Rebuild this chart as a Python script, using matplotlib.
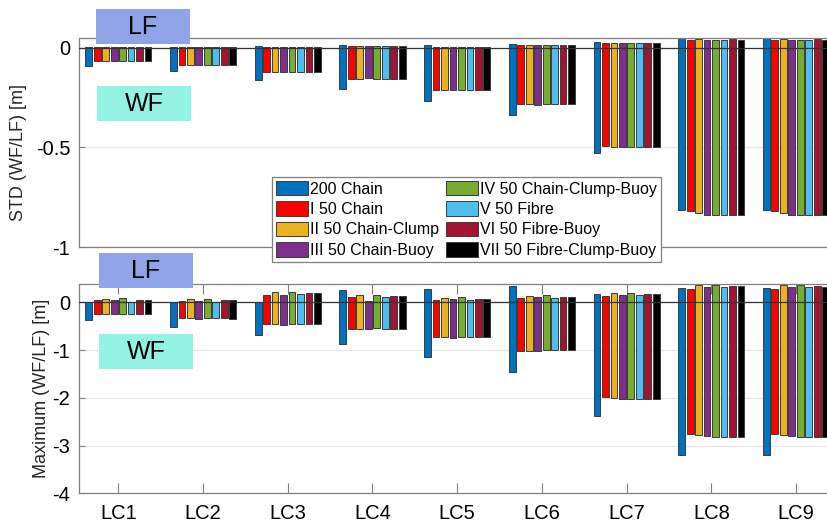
import numpy as np
import matplotlib
matplotlib.use('Agg')
import matplotlib.pyplot as plt
from matplotlib.patches import Rectangle, Patch

plt.rcParams['font.family'] = ['Liberation Sans', 'DejaVu Sans']

cases = ['LC1', 'LC2', 'LC3', 'LC4', 'LC5', 'LC6', 'LC7', 'LC8', 'LC9']
configs = ['200 Chain', 'I 50 Chain', 'II 50 Chain-Clump', 'III 50 Chain-Buoy',
           'IV 50 Chain-Clump-Buoy', 'V 50 Fibre', 'VI 50 Fibre-Buoy',
           'VII 50 Fibre-Clump-Buoy']
colors = ['#0072BD', '#FF0000', '#EDB120', '#7E2F8E', '#77AC30', '#4DBEEE',
          '#A2142F', '#000000']

# STD, low-frequency part (positive) -- rows: config, cols: LC1..LC9
std_lf = [
    [0.004, 0.005, 0.008, 0.013, 0.013, 0.018, 0.028, 0.048, 0.048],
    [0.002, 0.003, 0.005, 0.008, 0.006, 0.012, 0.022, 0.037, 0.037],
    [0.002, 0.003, 0.005, 0.008, 0.006, 0.012, 0.025, 0.042, 0.043],
    [0.002, 0.003, 0.005, 0.008, 0.006, 0.012, 0.025, 0.039, 0.039],
    [0.002, 0.003, 0.005, 0.008, 0.006, 0.012, 0.025, 0.040, 0.041],
    [0.002, 0.003, 0.005, 0.008, 0.006, 0.012, 0.025, 0.040, 0.040],
    [0.002, 0.003, 0.005, 0.008, 0.006, 0.012, 0.025, 0.043, 0.043],
    [0.002, 0.003, 0.005, 0.008, 0.006, 0.012, 0.025, 0.040, 0.041],
]
# STD, wave-frequency part (negative)
std_wf = [
    [-0.089, -0.117, -0.163, -0.206, -0.265, -0.337, -0.528, -0.814, -0.814],
    [-0.067, -0.087, -0.121, -0.159, -0.210, -0.281, -0.494, -0.819, -0.819],
    [-0.067, -0.087, -0.121, -0.159, -0.210, -0.281, -0.497, -0.829, -0.829],
    [-0.067, -0.087, -0.122, -0.153, -0.210, -0.285, -0.497, -0.838, -0.838],
    [-0.067, -0.087, -0.120, -0.159, -0.210, -0.281, -0.497, -0.841, -0.841],
    [-0.067, -0.087, -0.120, -0.159, -0.210, -0.281, -0.497, -0.840, -0.841],
    [-0.067, -0.087, -0.120, -0.159, -0.210, -0.281, -0.497, -0.840, -0.841],
    [-0.067, -0.087, -0.120, -0.159, -0.210, -0.281, -0.497, -0.840, -0.841],
]
# Maximum, low-frequency part (positive)
max_lf = [
    [0.010, 0.010, 0.005, 0.250, 0.280, 0.350, 0.170, 0.305, 0.305],
    [0.040, 0.027, 0.160, 0.110, 0.048, 0.090, 0.140, 0.280, 0.280],
    [0.075, 0.062, 0.210, 0.145, 0.090, 0.125, 0.190, 0.355, 0.355],
    [0.048, 0.020, 0.155, 0.020, 0.062, 0.105, 0.155, 0.320, 0.320],
    [0.090, 0.075, 0.220, 0.150, 0.105, 0.145, 0.200, 0.360, 0.360],
    [0.013, 0.013, 0.170, 0.105, 0.055, 0.090, 0.150, 0.320, 0.320],
    [0.055, 0.040, 0.190, 0.125, 0.075, 0.110, 0.170, 0.340, 0.340],
    [0.040, 0.040, 0.190, 0.125, 0.070, 0.100, 0.165, 0.335, 0.330],
]
# Maximum, wave-frequency part (negative)
max_wf = [
    [-0.377, -0.517, -0.684, -0.880, -1.140, -1.450, -2.380, -3.190, -3.190],
    [-0.250, -0.335, -0.460, -0.560, -0.725, -1.030, -1.980, -2.760, -2.760],
    [-0.250, -0.335, -0.465, -0.560, -0.730, -1.025, -2.010, -2.780, -2.780],
    [-0.240, -0.340, -0.470, -0.560, -0.740, -1.030, -2.020, -2.810, -2.810],
    [-0.250, -0.335, -0.460, -0.545, -0.725, -1.010, -2.030, -2.820, -2.820],
    [-0.240, -0.335, -0.465, -0.560, -0.720, -1.000, -2.030, -2.820, -2.830],
    [-0.245, -0.335, -0.465, -0.560, -0.720, -1.000, -2.030, -2.830, -2.830],
    [-0.245, -0.340, -0.465, -0.560, -0.720, -1.000, -2.030, -2.830, -2.830],
]

axis_color = '#7f7f7f'
grid_color = '#e6e6e6'
edge_color = '#3c3c3c'
tick_size = 14.5
label_size = 13

fig = plt.figure(figsize=(8.27, 5.25), dpi=100)
ax_std = fig.add_axes([0.0950, 0.5295, 0.9157, 0.3980])
ax_max = fig.add_axes([0.0950, 0.0604, 0.9157, 0.3987])

x = np.arange(1, len(cases) + 1)
n = len(configs)
slot = 0.8 / n
width = 0.8 * slot


def draw_panel(ax, lf, wf, ylim, yticks, ylabel):
    for i in range(n):
        pos = x - 0.4 + slot * (i + 0.5)
        ax.bar(pos, lf[i], width, color=colors[i], edgecolor=edge_color,
               linewidth=0.7, zorder=2)
        ax.bar(pos, wf[i], width, color=colors[i], edgecolor=edge_color,
               linewidth=0.7, zorder=2)
    ax.axhline(0, color='#333333', linewidth=0.9, zorder=3)
    ax.set_xlim(0.53, 9.47)
    ax.set_ylim(*ylim)
    ax.set_yticks(yticks)
    ax.set_yticklabels(['%g' % t for t in yticks])
    ax.yaxis.grid(True, color=grid_color, linewidth=0.9, zorder=0)
    ax.set_axisbelow(True)
    for side in ['left', 'top', 'bottom', 'right']:
        ax.spines[side].set_color(axis_color)
        ax.spines[side].set_linewidth(0.9)
    ax.tick_params(axis='y', direction='in', length=4, color=axis_color,
                   labelsize=tick_size, pad=6)
    ax.set_ylabel(ylabel, fontsize=label_size, color='#262626')


draw_panel(ax_std, std_lf, std_wf, (-1, 0.049), [-1, -0.5, 0], 'STD (WF/LF) [m]')
ax_std.set_xticks([])
ax_std.yaxis.set_label_coords(-0.068, 0.45)

draw_panel(ax_max, max_lf, max_wf, (-4, 0.383), [-4, -3, -2, -1, 0],
           'Maximum (WF/LF) [m]')
ax_max.set_xticks(x)
ax_max.set_xticklabels(cases)
ax_max.tick_params(axis='x', direction='in', length=7, color=axis_color,
                   labelsize=tick_size, top=True, pad=8)
ax_max.yaxis.set_label_coords(-0.038, 0.5)

# LF / WF tags
tags = [('LF', 96, 9, '#8FA3E6'), ('WF', 97, 86, '#93F2E4'),
        ('LF', 99, 253, '#8FA3E6'), ('WF', 99, 334, '#93F2E4')]
W, H = 827.0, 525.0
for text, px, py, col in tags:
    fig.add_artist(Rectangle((px / W, 1 - (py + 35) / H), 94 / W, 35 / H,
                             transform=fig.transFigure, facecolor=col,
                             edgecolor='none', zorder=5))
    fig.text((px + 47) / W, 1 - (py + 18) / H, text, fontsize=18,
             ha='center', va='center', zorder=6)

handles = [Patch(facecolor=c, edgecolor=edge_color, linewidth=0.7) for c in colors]
leg = fig.legend(handles, configs, loc='upper left',
                 bbox_to_anchor=(272 / W, 1 - 177 / H), ncol=2,
                 fontsize=11.5, frameon=True, fancybox=False,
                 edgecolor=axis_color, framealpha=1, borderpad=0.25,
                 labelspacing=0.3, handlelength=2.0, handleheight=1.0,
                 handletextpad=0.15, columnspacing=0.4, borderaxespad=0)
leg.get_frame().set_linewidth(0.9)
leg.set_zorder(7)

fig.savefig('out.png', dpi=100)
